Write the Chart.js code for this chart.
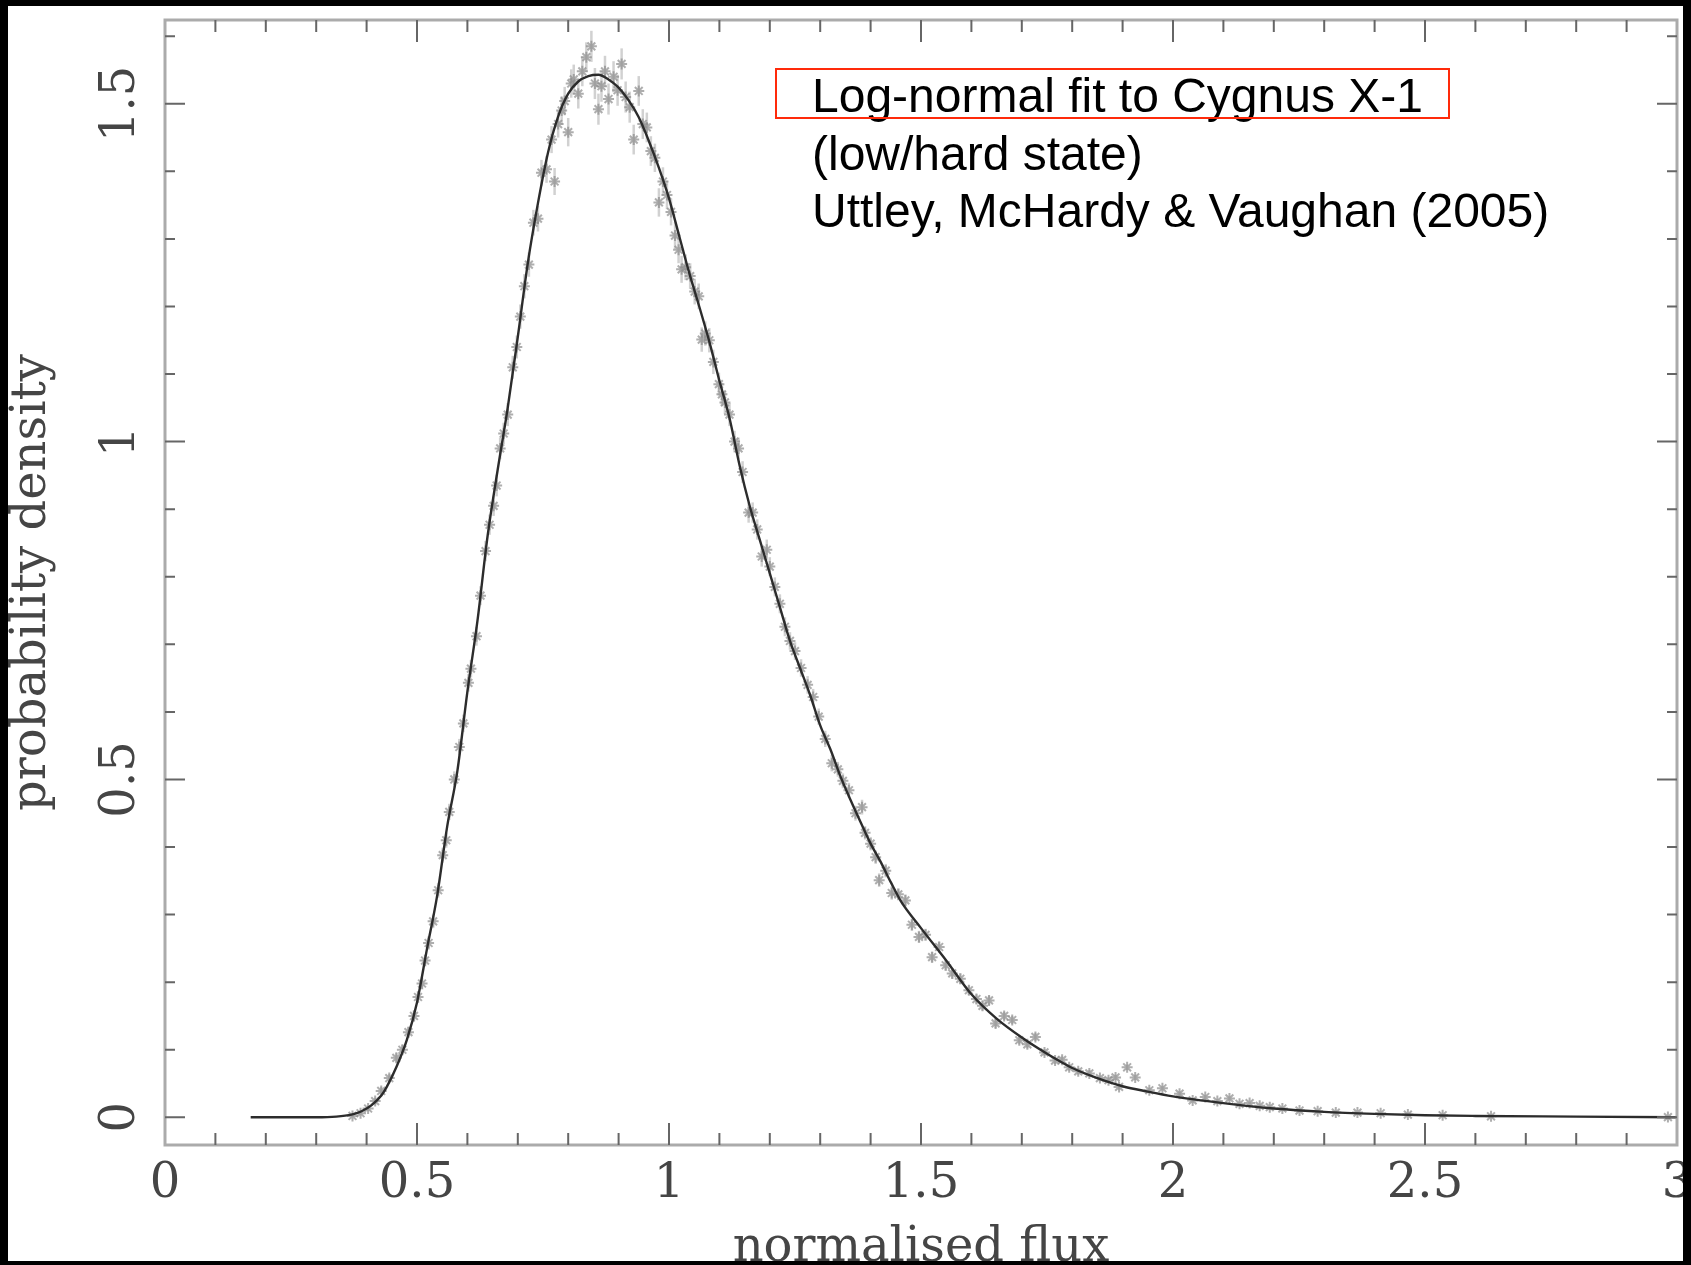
<!DOCTYPE html>
<html>
<head>
<meta charset="utf-8">
<title>Log-normal fit to Cygnus X-1</title>
<script src="https://cdn.jsdelivr.net/npm/chart.js@4.4.1/dist/chart.umd.min.js"></script>
<style>
  html, body { margin: 0; padding: 0; background: #000; }
  #fluxChart { display: block; }
</style>
</head>
<body>
<canvas id="fluxChart" width="1691" height="1265"></canvas>
<script>
// axis ranges and tick labels
var xLimits = [0, 3];
var yLimits = [-0.041, 1.624];
var xTickValues = [0, 0.5, 1, 1.5, 2, 2.5, 3];
var xTickLabels = ["0", "0.5", "1", "1.5", "2", "2.5", "3"];
var yTickValues = [0, 0.5, 1, 1.5];
var yTickLabels = ["0", "0.5", "1", "1.5"];
var noteLines = ["Log-normal fit to Cygnus X-1", "(low/hard state)", "Uttley, McHardy & Vaughan (2005)"];

// fitted log-normal curve
var fitFlux = [0.17, 0.25, 0.30, 0.34, 0.37, 0.39, 0.41, 0.43, 0.44,
  0.46, 0.48, 0.50, 0.52, 0.54, 0.56, 0.58, 0.60, 0.62, 0.64, 0.66, 0.68, 0.70,
  0.72, 0.74, 0.76, 0.78, 0.80, 0.82, 0.84, 0.86, 0.88, 0.90,
  0.92, 0.94, 0.96, 0.98, 1.00, 1.02, 1.04, 1.06, 1.08, 1.10, 1.12, 1.14, 1.16, 1.18,
  1.20, 1.22, 1.24, 1.26, 1.28, 1.30, 1.32, 1.34, 1.36, 1.38, 1.40, 1.42, 1.44, 1.46,
  1.50, 1.55, 1.60, 1.65, 1.70, 1.75, 1.80, 1.85, 1.90, 1.95, 2.00,
  2.10, 2.20, 2.30, 2.40, 2.50, 2.60, 2.80, 3.00];
var fitDensity = [0, 0, 0, 0.001, 0.004, 0.009, 0.018, 0.033, 0.045,
  0.076, 0.115, 0.170, 0.250, 0.328, 0.431, 0.512, 0.630, 0.735, 0.860, 0.958, 1.050, 1.155,
  1.265, 1.353, 1.428, 1.481, 1.515, 1.533, 1.541, 1.543, 1.536, 1.524,
  1.505, 1.480, 1.445, 1.405, 1.360, 1.305, 1.250, 1.200, 1.148, 1.090, 1.035, 0.965, 0.905, 0.855,
  0.805, 0.755, 0.705, 0.665, 0.625, 0.580, 0.545, 0.505, 0.470, 0.437, 0.405, 0.378, 0.348, 0.320,
  0.280, 0.232, 0.182, 0.146, 0.118, 0.094, 0.073, 0.058, 0.046, 0.038, 0.031,
  0.021, 0.013, 0.008, 0.005, 0.003, 0.002, 0.001, 0];

// measured histogram bins with errors
var binFlux = [
  0.372, 0.388, 0.403, 0.417, 0.429, 0.445, 0.459, 0.471, 0.483, 0.494,
  0.502, 0.510, 0.516, 0.523, 0.532, 0.542, 0.551, 0.558, 0.564, 0.574,
  0.584, 0.592, 0.602, 0.607, 0.618, 0.626, 0.636, 0.644, 0.652, 0.658,
  0.665, 0.672, 0.680, 0.690, 0.698, 0.705, 0.713, 0.722, 0.731, 0.740,
  0.747, 0.757, 0.767, 0.773, 0.780, 0.787, 0.793, 0.800, 0.806, 0.811,
  0.820, 0.828, 0.836, 0.846, 0.853, 0.860, 0.866, 0.873, 0.880, 0.890,
  0.898, 0.906, 0.914, 0.922, 0.930, 0.940, 0.948, 0.956, 0.964, 0.972,
  0.980, 0.988, 0.996, 1.004, 1.012, 1.019, 1.025, 1.033, 1.042, 1.051,
  1.059, 1.065, 1.072, 1.080, 1.088, 1.099, 1.105, 1.111, 1.120, 1.130,
  1.138, 1.146, 1.158, 1.166, 1.175, 1.184, 1.194, 1.200, 1.210, 1.220,
  1.230, 1.240, 1.250, 1.262, 1.275, 1.286, 1.297, 1.310, 1.323, 1.335,
  1.345, 1.357, 1.370, 1.383, 1.389, 1.400, 1.410, 1.417, 1.430, 1.442,
  1.455, 1.469, 1.482, 1.496, 1.509, 1.522, 1.536, 1.549, 1.562, 1.578,
  1.595, 1.610, 1.622, 1.635, 1.648, 1.665, 1.681, 1.695, 1.711, 1.727,
  1.745, 1.766, 1.780, 1.794, 1.812, 1.834, 1.855, 1.872, 1.886, 1.893,
  1.909, 1.925, 1.953, 1.979, 2.013, 2.039, 2.064, 2.088, 2.112, 2.132,
  2.152, 2.172, 2.192, 2.217, 2.251, 2.287, 2.323, 2.366, 2.412, 2.466,
  2.535, 2.631, 2.982];
var binDensity = [
  0.002, 0.006, 0.013, 0.024, 0.039, 0.058, 0.088, 0.100, 0.126, 0.150,
  0.178, 0.198, 0.232, 0.258, 0.290, 0.336, 0.388, 0.410, 0.452, 0.500,
  0.548, 0.583, 0.643, 0.664, 0.712, 0.772, 0.838, 0.877, 0.905, 0.935,
  0.990, 1.012, 1.040, 1.110, 1.140, 1.185, 1.230, 1.262, 1.324, 1.330,
  1.398, 1.403, 1.447, 1.385, 1.470, 1.490, 1.504, 1.458, 1.530, 1.536,
  1.515, 1.548, 1.569, 1.585, 1.530, 1.492, 1.526, 1.548, 1.507, 1.540,
  1.520, 1.559, 1.510, 1.495, 1.447, 1.519, 1.470, 1.465, 1.430, 1.420,
  1.354, 1.385, 1.365, 1.340, 1.305, 1.284, 1.255, 1.258, 1.245, 1.222,
  1.215, 1.151, 1.160, 1.150, 1.118, 1.085, 1.070, 1.058, 1.040, 1.000,
  0.990, 0.955, 0.895, 0.895, 0.870, 0.830, 0.840, 0.815, 0.785, 0.760,
  0.726, 0.705, 0.690, 0.665, 0.640, 0.622, 0.593, 0.560, 0.524, 0.515,
  0.498, 0.484, 0.450, 0.459, 0.421, 0.405, 0.385, 0.351, 0.365, 0.332,
  0.330, 0.321, 0.285, 0.267, 0.270, 0.237, 0.252, 0.225, 0.213, 0.205,
  0.188, 0.175, 0.165, 0.173, 0.139, 0.150, 0.144, 0.114, 0.108, 0.119,
  0.096, 0.084, 0.085, 0.074, 0.068, 0.065, 0.058, 0.055, 0.059, 0.045,
  0.074, 0.059, 0.040, 0.043, 0.035, 0.025, 0.030, 0.024, 0.028, 0.020,
  0.021, 0.017, 0.015, 0.013, 0.010, 0.009, 0.007, 0.007, 0.006, 0.004,
  0.003, 0.0015, 0.0003];
var binError = [
  0.002, 0.003, 0.004, 0.005, 0.006, 0.006, 0.007, 0.007, 0.008, 0.008,
  0.009, 0.009, 0.009, 0.010, 0.010, 0.011, 0.011, 0.011, 0.012, 0.012,
  0.012, 0.013, 0.013, 0.013, 0.014, 0.014, 0.015, 0.015, 0.015, 0.016,
  0.016, 0.016, 0.017, 0.017, 0.017, 0.018, 0.018, 0.018, 0.019, 0.019,
  0.019, 0.020, 0.020, 0.020, 0.020, 0.021, 0.021, 0.021, 0.021, 0.022,
  0.022, 0.022, 0.022, 0.023, 0.023, 0.023, 0.023, 0.023, 0.023, 0.023,
  0.023, 0.023, 0.023, 0.023, 0.022, 0.022, 0.022, 0.022, 0.022, 0.021,
  0.021, 0.021, 0.021, 0.020, 0.020, 0.020, 0.020, 0.019, 0.019, 0.019,
  0.019, 0.018, 0.018, 0.018, 0.018, 0.017, 0.017, 0.017, 0.017, 0.016,
  0.016, 0.016, 0.015, 0.015, 0.015, 0.015, 0.015, 0.014, 0.014, 0.014,
  0.014, 0.013, 0.013, 0.013, 0.013, 0.012, 0.012, 0.012, 0.012, 0.011,
  0.011, 0.011, 0.011, 0.011, 0.010, 0.010, 0.010, 0.010, 0.010, 0.010,
  0.009, 0.009, 0.009, 0.009, 0.009, 0.008, 0.008, 0.008, 0.008, 0.008,
  0.007, 0.007, 0.007, 0.007, 0.007, 0.006, 0.006, 0.006, 0.006, 0.006,
  0.005, 0.005, 0.005, 0.005, 0.005, 0.005, 0.004, 0.004, 0.004, 0.004,
  0.004, 0.004, 0.004, 0.003, 0.003, 0.003, 0.003, 0.003, 0.003, 0.002,
  0.002, 0.002, 0.002, 0.002, 0.002, 0.002, 0.002, 0.001, 0.001, 0.001,
  0.001, 0.001, 0.001];

var fitPoints = fitFlux.map(function(x, i){ return {x: x, y: fitDensity[i]}; });
var binPoints = binFlux.map(function(x, i){ return {x: x, y: binDensity[i]}; });

Chart.defaults.font.family = '"DejaVu Serif", serif';

// white page inside the black frame
var paperPlugin = {
  id: 'paper',
  beforeDraw: function(chart) {
    var ctx = chart.ctx;
    ctx.save();
    ctx.fillStyle = '#fff';
    ctx.fillRect(0, 0, chart.width, chart.height);
    ctx.restore();
  },
  afterDraw: function(chart) {
    var ctx = chart.ctx;
    ctx.save();
    ctx.fillStyle = '#000';
    ctx.fillRect(0, 0, chart.width, 6);
    ctx.fillRect(0, 0, 8, chart.height);
    ctx.fillRect(1683, 0, chart.width - 1683, chart.height);
    ctx.fillRect(0, 1261, chart.width, chart.height - 1261);
    ctx.restore();
  }
};

// error bars under the markers
var errorBarPlugin = {
  id: 'errorBars',
  beforeDatasetsDraw: function(chart) {
    var ctx = chart.ctx, xs = chart.scales.x, ys = chart.scales.y, a = chart.chartArea;
    ctx.save();
    ctx.beginPath();
    ctx.rect(a.left, a.top, a.right - a.left, a.bottom - a.top);
    ctx.clip();
    ctx.strokeStyle = 'rgba(185,185,185,0.65)';
    ctx.lineWidth = 2.5;
    for (var i = 0; i < binFlux.length; i++) {
      var px = xs.getPixelForValue(binFlux[i]);
      ctx.beginPath();
      ctx.moveTo(px, ys.getPixelForValue(binDensity[i] - binError[i]));
      ctx.lineTo(px, ys.getPixelForValue(binDensity[i] + binError[i]));
      ctx.stroke();
    }
    ctx.restore();
  }
};

// box frame with inward ticks on all four sides
var framePlugin = {
  id: 'frame',
  afterDatasetsDraw: function(chart) {
    var ctx = chart.ctx, xs = chart.scales.x, ys = chart.scales.y, a = chart.chartArea;
    ctx.save();
    ctx.strokeStyle = '#ababab';
    ctx.lineWidth = 3;
    ctx.strokeRect(a.left, a.top, a.right - a.left, a.bottom - a.top);
    ctx.strokeStyle = '#666';
    ctx.lineWidth = 2;
    ctx.beginPath();
    for (var i = 1; i < 30; i++) {
      var px = xs.getPixelForValue(i / 10);
      var len = (i % 5 == 0) ? 22 : 12;
      ctx.moveTo(px, a.bottom); ctx.lineTo(px, a.bottom - len);
      ctx.moveTo(px, a.top); ctx.lineTo(px, a.top + len);
    }
    for (var j = 0; j <= 16; j++) {
      var py = ys.getPixelForValue(j / 10);
      var ylen = (j % 5 == 0) ? 20 : 10;
      ctx.moveTo(a.left, py); ctx.lineTo(a.left + ylen, py);
      ctx.moveTo(a.right, py); ctx.lineTo(a.right - ylen, py);
    }
    ctx.stroke();
    ctx.restore();
  }
};

// reference note in the upper right
var notePlugin = {
  id: 'note',
  afterDatasetsDraw: function(chart) {
    var ctx = chart.ctx;
    ctx.save();
    ctx.font = '48px "Liberation Sans", Arial, sans-serif';
    ctx.fillStyle = '#000';
    ctx.textAlign = 'left';
    ctx.textBaseline = 'alphabetic';
    for (var i = 0; i < noteLines.length; i++) {
      ctx.fillText(noteLines[i], 812, 112 + i * 57.5);
    }
    ctx.strokeStyle = '#ff2a0a';
    ctx.lineWidth = 2;
    ctx.strokeRect(776, 69, 673, 49);
    ctx.restore();
  }
};

var chrtFlux = document.getElementById('fluxChart').getContext('2d');
var fluxChart = new Chart(chrtFlux, {
  type: 'scatter',
  data: {
    datasets: [{
      label: 'log-normal fit',
      type: 'line',
      data: fitPoints,
      showLine: true,
      borderColor: '#2c2c2c',
      borderWidth: 2.4,
      pointRadius: 0,
      fill: false,
      cubicInterpolationMode: 'monotone',
      order: 0
    }, {
      label: 'Cygnus X-1',
      data: binPoints,
      pointStyle: 'star',
      pointRadius: 5.5,
      borderColor: 'rgba(140,140,140,0.7)',
      backgroundColor: 'rgba(140,140,140,0.7)',
      borderWidth: 2,
      order: 1
    }]
  },
  options: {
    responsive: false,
    animation: false,
    devicePixelRatio: 1,
    layout: { padding: { top: 20, right: 14, bottom: 0, left: 0 } },
    plugins: {
      legend: { display: false },
      tooltip: { enabled: false }
    },
    scales: {
      x: {
        type: 'linear',
        min: xLimits[0],
        max: xLimits[1],
        grid: { display: false, drawTicks: false },
        border: { display: false },
        afterBuildTicks: function(axis) {
          axis.ticks = xTickValues.map(function(v){ return {value: v}; });
        },
        afterFit: function(axis) {
          axis.height = 120;
          axis.paddingLeft = 0;
          axis.paddingRight = 0;
        },
        ticks: {
          autoSkip: false,
          minRotation: 0,
          maxRotation: 0,
          padding: 11,
          color: '#454545',
          font: { size: 48 },
          callback: function(value, index) { return xTickLabels[index]; }
        },
        title: {
          display: true,
          text: 'normalised flux',
          color: '#454545',
          font: { size: 48 },
          padding: { top: 0, bottom: -12 }
        }
      },
      y: {
        type: 'linear',
        min: yLimits[0],
        max: yLimits[1],
        grid: { display: false, drawTicks: false },
        border: { display: false },
        afterBuildTicks: function(axis) {
          axis.ticks = yTickValues.map(function(v){ return {value: v}; });
        },
        afterFit: function(axis) {
          axis.width = 165;
          axis.paddingTop = 0;
          axis.paddingBottom = 0;
        },
        ticks: {
          minRotation: 90,
          maxRotation: 90,
          crossAlign: 'center',
          padding: 5,
          color: '#454545',
          font: { size: 48 },
          callback: function(value, index) { return yTickLabels[index]; }
        },
        title: {
          display: true,
          text: 'probability density',
          color: '#454545',
          font: { size: 48 },
          padding: { top: 4, bottom: 0 }
        }
      }
    }
  },
  plugins: [paperPlugin, errorBarPlugin, framePlugin, notePlugin]
});
</script>
</body>
</html>
